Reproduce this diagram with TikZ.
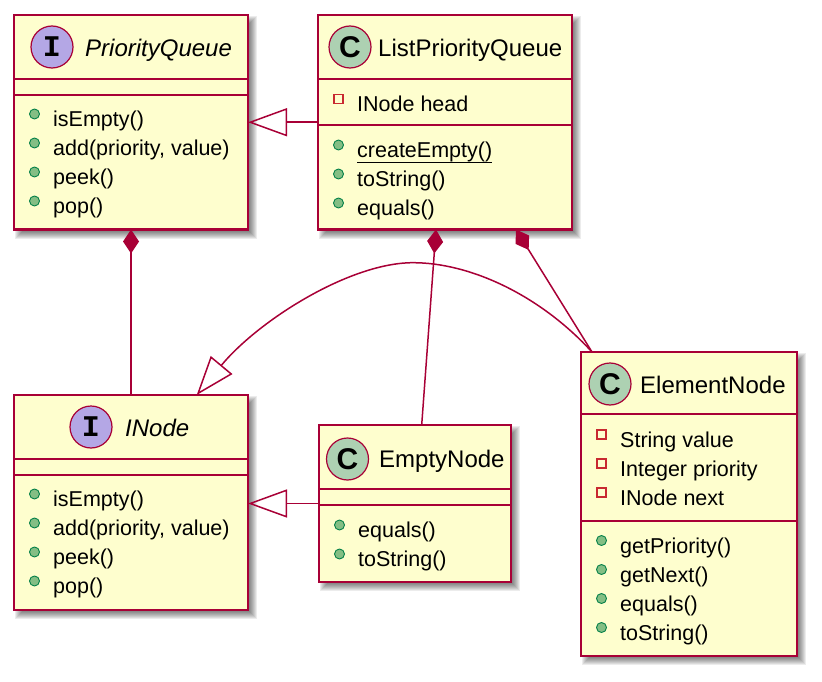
\documentclass[tikz,border=0pt]{standalone}
\usepackage{fontspec}
\setmainfont{Liberation Sans}
\newfontfamily\badgemono{Liberation Mono}
\usetikzlibrary{arrows.meta,calc}
\definecolor{umlred}{HTML}{A80036}
\definecolor{umlbg}{HTML}{FEFECE}
\definecolor{ibadgecol}{HTML}{B4A7E5}
\definecolor{cbadgecol}{HTML}{ADD1B2}
\definecolor{publight}{HTML}{84BE84}
\definecolor{pubdark}{HTML}{038048}
\definecolor{privred}{HTML}{C82930}
\tikzset{
  umlbox/.style={draw=umlred, line width=2.2pt, fill=umlbg, rectangle, inner sep=0pt, outer sep=0pt, anchor=north west},
  shadowlayer/.style={fill=black, opacity=0.075},
  divider/.style={draw=umlred, line width=1.8pt},
  mtxt/.style={anchor=base west, inner sep=0pt, font=\fontsize{21.5}{24}\selectfont},
  ntxt/.style={anchor=base west, inner sep=0pt, font=\fontsize{24}{28}\selectfont},
  ibadge/.style={circle, draw=umlred, line width=1.2pt, fill=ibadgecol, minimum size=42pt, inner sep=0pt, font=\badgemono\bfseries\fontsize{30}{30}\selectfont},
  cbadge/.style={circle, draw=umlred, line width=1.2pt, fill=cbadgecol, minimum size=42pt, inner sep=0pt, font=\bfseries\fontsize{30}{30}\selectfont},
  pubicon/.style={circle, draw=pubdark, fill=publight, line width=0.9pt, minimum size=10pt, inner sep=0pt},
  privicon/.style={rectangle, draw=privred, line width=1.2pt, minimum size=9pt, inner sep=0pt},
  conn/.style={draw=umlred, line width=1.5pt},
  gen/.style={conn, -{Triangle[open, length=39pt, width=28pt]}},
  comp/.style={conn, {Diamond[length=24pt, width=16pt]}-}
}
\newcommand\pubrow[4]{\node[pubicon] (#1i) at ({#2+20.5},{#3-12.5}) {}; \node[mtxt] (#1) at ({#2+39},#3) {#4};}
\newcommand\privrow[4]{\node[privicon] (#1i) at ({#2+20.5},{#3-12.5}) {}; \node[mtxt] (#1) at ({#2+39},#3) {#4};}
\newcommand\boxshadow[4]{\foreach \e in {-4,-3,...,4}{\fill[shadowlayer] ({#1+5-\e},{#2+5-\e}) rectangle ({#3+5+\e},{#4+5+\e});}}
\begin{document}
\begin{tikzpicture}[x=1pt, y=-1pt]
\useasboundingbox (0,0) rectangle (822,682);

% shadows
\boxshadow{14}{15}{248}{229.5}
\boxshadow{318}{15}{572}{229.5}
\boxshadow{14}{395}{248}{610}
\boxshadow{319}{425}{511}{582}
\boxshadow{581}{352}{797}{656}

% boxes
\node[umlbox, minimum width=234pt, minimum height=214.5pt] (PQ) at (14,15) {};
\node[umlbox, minimum width=254pt, minimum height=214.5pt] (LPQ) at (318,15) {};
\node[umlbox, minimum width=234pt, minimum height=215pt] (IN) at (14,395) {};
\node[umlbox, minimum width=192pt, minimum height=157pt] (EM) at (319,425) {};
\node[umlbox, minimum width=216pt, minimum height=304pt] (EN) at (581,352) {};

% dividers
\draw[divider] (14,79) -- (248,79);
\draw[divider] (14,95) -- (248,95);
\draw[divider] (318,79) -- (572,79);
\draw[divider] (318,125) -- (572,125);
\draw[divider] (14,459) -- (248,459);
\draw[divider] (14,475) -- (248,475);
\draw[divider] (319,489) -- (511,489);
\draw[divider] (319,505) -- (511,505);
\draw[divider] (581,414) -- (797,414);
\draw[divider] (581,521) -- (797,521);

% headers
\node[ibadge] (PQb) at (52,47) {I};
\node[ntxt] (PQn) at (85,56.5) {\itshape PriorityQueue};
\node[cbadge] (LPQb) at (350,47) {C};
\node[ntxt] (LPQn) at (378,56.5) {ListPriorityQueue};
\node[ibadge] (INb) at (91,427) {I};
\node[ntxt] (INn) at (125,436.5) {\itshape INode};
\node[cbadge] (EMb) at (347.5,459) {C};
\node[ntxt] (EMn) at (379,467.5) {EmptyNode};
\node[cbadge] (ENb) at (610,384) {C};
\node[ntxt] (ENn) at (640,393.5) {ElementNode};

% members
\pubrow{pqa}{14}{126.5}{isEmpty()}
\pubrow{pqb}{14}{155.5}{add(priority, value)}
\pubrow{pqc}{14}{184.5}{peek()}
\pubrow{pqd}{14}{213.5}{pop()}

\privrow{lpqa}{318}{111.5}{INode head}
\pubrow{lpqb}{318}{157.5}{createEmpty()}
\pubrow{lpqc}{318}{186.5}{toString()}
\pubrow{lpqd}{318}{215.5}{equals()}
\draw[line width=1.3pt] ([yshift=-5pt]lpqb.base west) -- ([yshift=-5pt]lpqb.base east);

\pubrow{ina}{14}{506.5}{isEmpty()}
\pubrow{inb}{14}{535.5}{add(priority, value)}
\pubrow{inc}{14}{564.5}{peek()}
\pubrow{ind}{14}{593.5}{pop()}

\pubrow{ema}{319}{537.5}{equals()}
\pubrow{emb}{319}{566.5}{toString()}

\privrow{ena}{581}{447}{String value}
\privrow{enb}{581}{476}{Integer priority}
\privrow{enc}{581}{505}{INode next}
\pubrow{end}{581}{553}{getPriority()}
\pubrow{ene}{581}{582}{getNext()}
\pubrow{enf}{581}{611}{equals()}
\pubrow{eng}{581}{640}{toString()}

% connectors
\coordinate (enTop) at ([xshift=11pt]EN.north west);
\coordinate (arcTop) at (413,262.7);
\draw[gen] (LPQ.west) -- (PQ.east);
\draw[gen] (EM.west) -- (EM.west -| IN.east);
\draw[comp] (PQ.south) -- (IN.north);
\draw[comp] ([xshift=-9pt]LPQ.south) -- ([xshift=6.7pt]EM.north);
\draw[comp] ([xshift=71pt]LPQ.south) -- (enTop);
\draw[gen] (enTop) .. controls (540,295) and (470,262.7) .. (arcTop) .. controls (350,262.7) and (259,320) .. ([xshift=65.7pt]IN.north);
\end{tikzpicture}
\end{document}
